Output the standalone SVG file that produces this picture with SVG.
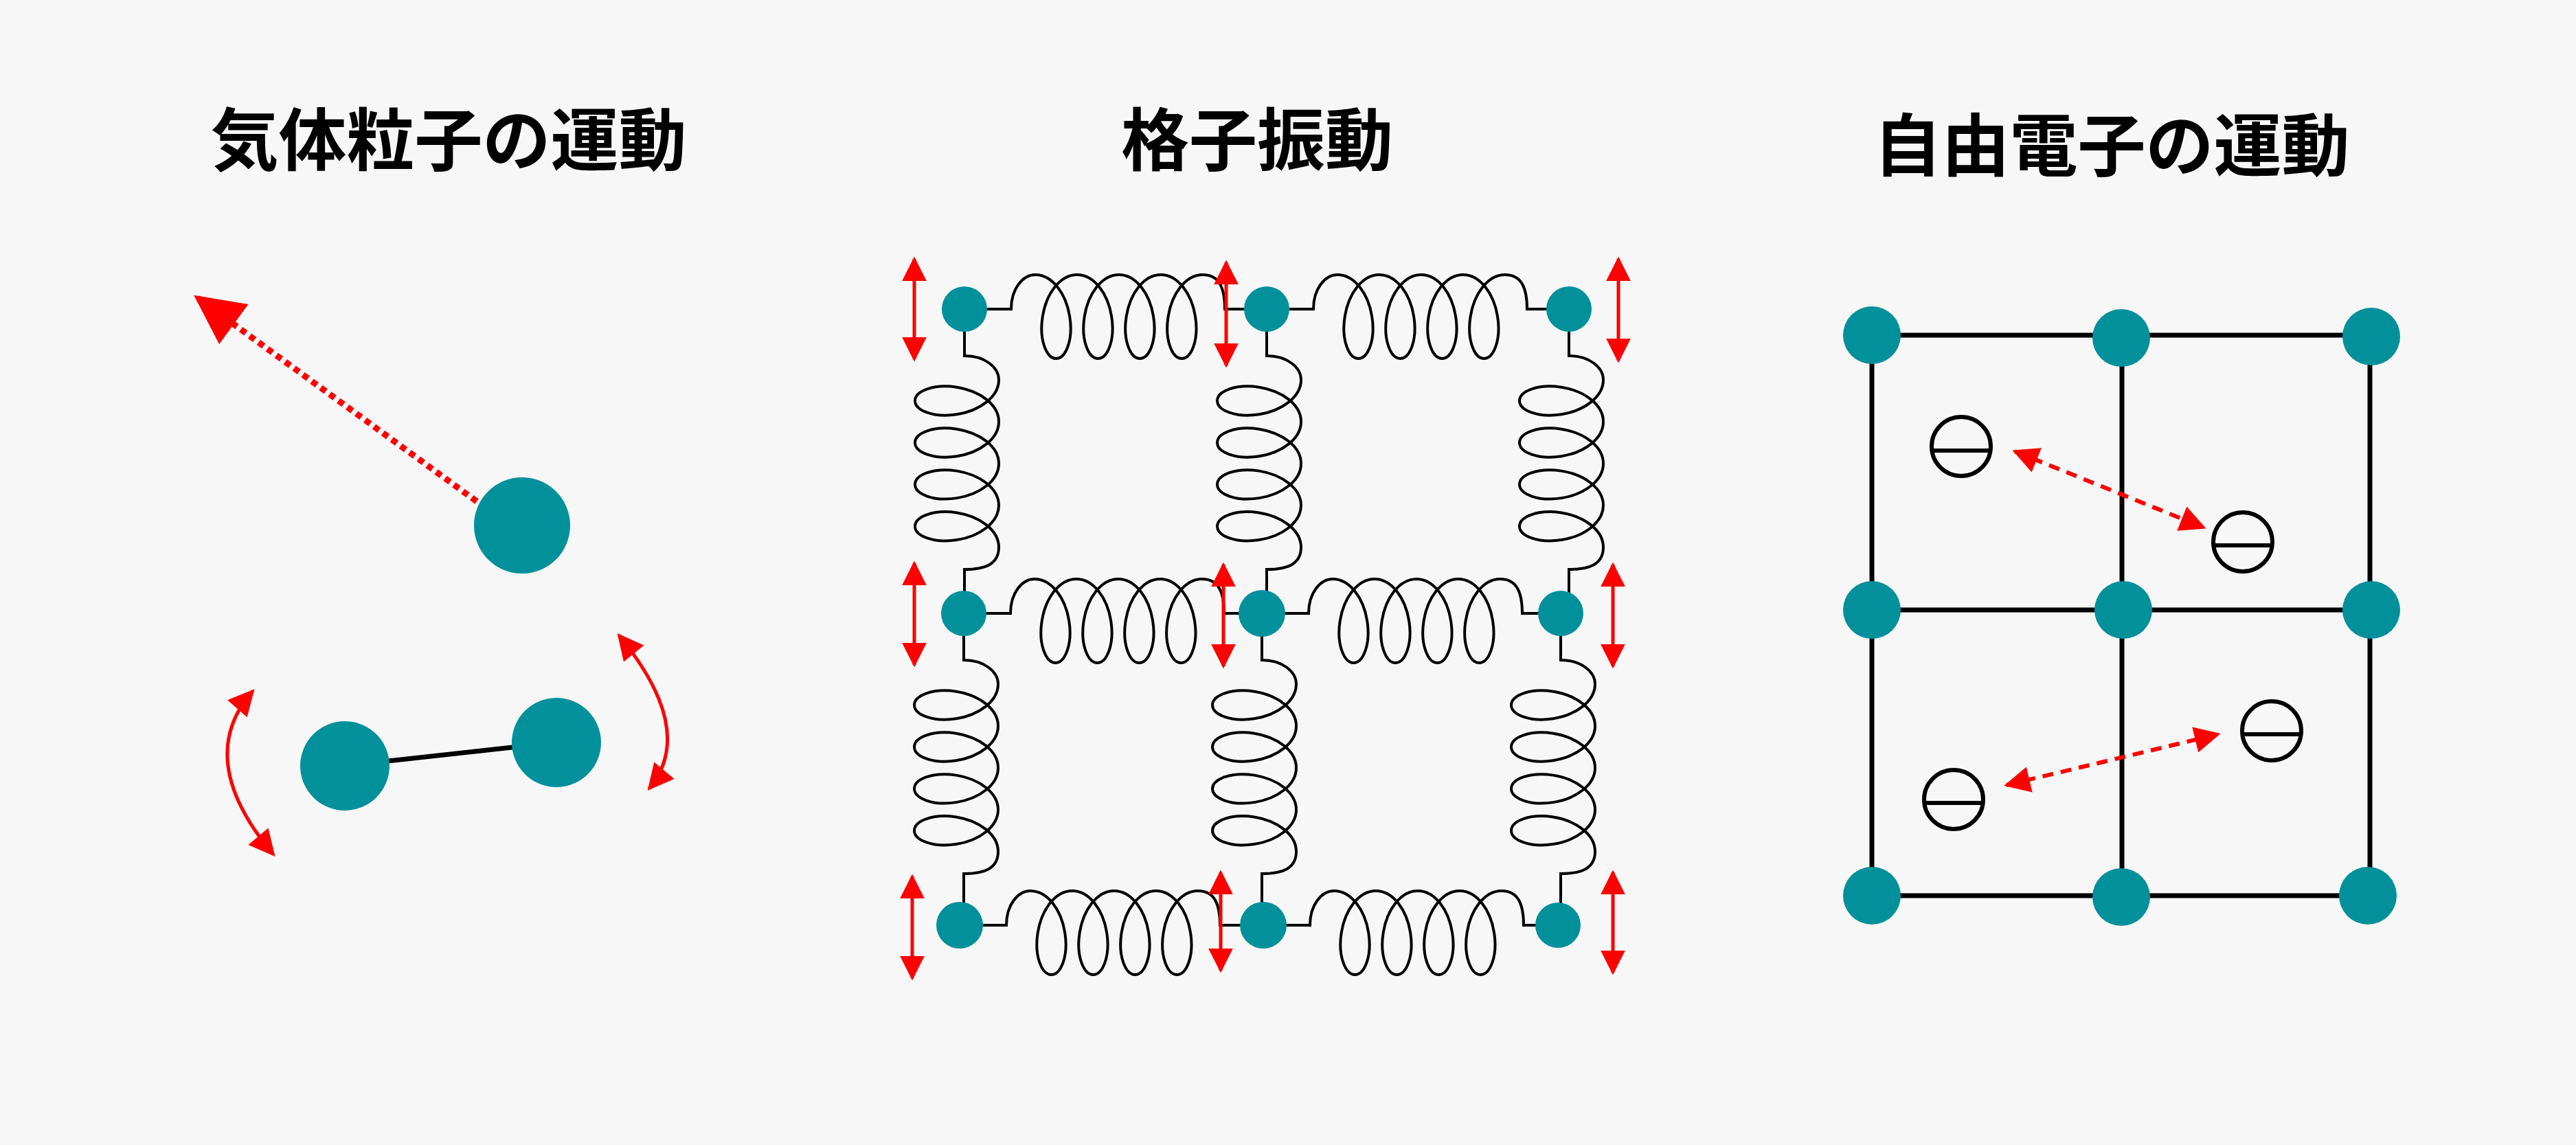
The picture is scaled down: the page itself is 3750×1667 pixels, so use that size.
<svg xmlns="http://www.w3.org/2000/svg" xmlns:xlink="http://www.w3.org/1999/xlink" width="3750" height="1667" viewBox="0 0 3750 1667">
<style>
.t{font-family:"Noto Sans CJK JP","Noto Sans",sans-serif;font-weight:bold;font-size:99px;fill:#000;text-anchor:middle}
.n{fill:#02909b}
.sp{fill:none;stroke:#000;stroke-width:4}
.ra{stroke:#f00;stroke-width:5;fill:none}
.el{fill:none;stroke:#000;stroke-width:6}
.gl{stroke:#000;stroke-width:7;fill:none}
</style>
<defs>
<marker id="ah" viewBox="0 0 10 10" refX="9" refY="5" markerUnits="userSpaceOnUse" markerWidth="36" markerHeight="42" orient="auto-start-reverse"><path d="M0,0L10,5L0,10z" fill="#f00"/></marker>
<marker id="ahg" viewBox="0 0 10 10" refX="9" refY="5" markerUnits="userSpaceOnUse" markerWidth="72" markerHeight="84" orient="auto-start-reverse"><path d="M0,0L10,5L0,10z" fill="#f00"/></marker>
<marker id="ahc" viewBox="0 0 10 10" refX="9" refY="5" markerUnits="userSpaceOnUse" markerWidth="40" markerHeight="38" orient="auto-start-reverse"><path d="M0,0L10,5L0,10z" fill="#f00"/></marker>
<path id="spring" class="sp" d="M0,0L68,0C68,-30 85,-50 103,-50
C127.7,-50 147.88,-22.7 153.24,11C158.6,44.7 147.47,72 133.47,72C119.47,72 108.35,44.7 113.71,11C119.07,-22.7 139.25,-50 163.95,-50
C188.65,-50 208.83,-22.7 214.19,11C219.55,44.7 208.42,72 194.42,72C180.42,72 169.3,44.7 174.66,11C180.02,-22.7 200.2,-50 224.9,-50
C249.6,-50 269.78,-22.7 275.14,11C280.5,44.7 269.37,72 255.37,72C241.37,72 230.25,44.7 235.61,11C240.97,-22.7 261.15,-50 285.85,-50
C310.55,-50 330.73,-22.7 336.09,11C341.45,44.7 330.32,72 316.32,72C302.32,72 291.2,44.7 296.56,11C301.92,-22.7 322.1,-50 346.8,-50
C371.5,-50 379,-30 379,0L446,0"/>
</defs>
<rect width="3750" height="1667" fill="#f7f7f7"/>
<text class="t" x="653" y="240">気体粒子の運動</text>
<text class="t" x="1830" y="240">格子振動</text>
<text class="t" x="3074" y="248">自由電子の運動</text>

<g id="connectors">
<line x1="694" y1="730" x2="288" y2="434" stroke="#f00" stroke-width="9" stroke-dasharray="9 7" marker-end="url(#ahg)"/>
<line x1="502" y1="1115" x2="810" y2="1081" stroke="#000" stroke-width="7"/>
<path class="ra" d="M368,1006Q281,1105 398,1244" marker-start="url(#ahc)" marker-end="url(#ahc)"/>
<path class="ra" d="M901,925Q1015,1064 945,1148" marker-start="url(#ahc)" marker-end="url(#ahc)"/>

<use xlink:href="#spring" transform="translate(1404,450)"/>
<use xlink:href="#spring" transform="translate(1844,450)"/>
<use xlink:href="#spring" transform="translate(1403,893)"/>
<use xlink:href="#spring" transform="translate(1837,893)"/>
<use xlink:href="#spring" transform="translate(1397,1347)"/>
<use xlink:href="#spring" transform="translate(1839,1347)"/>
<use xlink:href="#spring" transform="translate(1404,450) rotate(90)"/>
<use xlink:href="#spring" transform="translate(1403,893) rotate(90)"/>
<use xlink:href="#spring" transform="translate(1844,450) rotate(90)"/>
<use xlink:href="#spring" transform="translate(1837,893) rotate(90)"/>
<use xlink:href="#spring" transform="translate(2284,450) rotate(90)"/>
<use xlink:href="#spring" transform="translate(2272,893) rotate(90)"/>

<line class="ra" x1="1331" y1="377" x2="1331" y2="523" marker-start="url(#ah)" marker-end="url(#ah)"/>
<line class="ra" x1="1785" y1="382" x2="1785" y2="532" marker-start="url(#ah)" marker-end="url(#ah)"/>
<line class="ra" x1="2356" y1="377" x2="2356" y2="525" marker-start="url(#ah)" marker-end="url(#ah)"/>
<line class="ra" x1="1331" y1="820" x2="1331" y2="968" marker-start="url(#ah)" marker-end="url(#ah)"/>
<line class="ra" x1="1781" y1="822" x2="1781" y2="970" marker-start="url(#ah)" marker-end="url(#ah)"/>
<line class="ra" x1="2348" y1="822" x2="2348" y2="970" marker-start="url(#ah)" marker-end="url(#ah)"/>
<line class="ra" x1="1328" y1="1276" x2="1328" y2="1424" marker-start="url(#ah)" marker-end="url(#ah)"/>
<line class="ra" x1="1777" y1="1270" x2="1777" y2="1413" marker-start="url(#ah)" marker-end="url(#ah)"/>
<line class="ra" x1="2348" y1="1270" x2="2348" y2="1416" marker-start="url(#ah)" marker-end="url(#ah)"/>

<path class="gl" d="M2725,488H3452M2725,888H3452M2725,1304H3452M2725,488V1304M3089,488V1304M3450,488V1304"/>
<line x1="2933" y1="657" x2="3208" y2="768" stroke="#f00" stroke-width="6" stroke-dasharray="16 11" marker-start="url(#ahc)" marker-end="url(#ahc)"/>
<line x1="2921" y1="1143" x2="3229" y2="1069" stroke="#f00" stroke-width="6" stroke-dasharray="16 11" marker-start="url(#ahc)" marker-end="url(#ahc)"/>
</g>

<g id="gas"><circle class="n" cx="760" cy="765" r="70"/></g>
<g id="molecule"><circle class="n" cx="502" cy="1115" r="65"/><circle class="n" cx="810" cy="1081" r="65"/></g>
<g id="lattice">
<circle class="n" cx="1404" cy="450" r="33"/><circle class="n" cx="1844" cy="450" r="33"/><circle class="n" cx="2284" cy="450" r="33"/>
<circle class="n" cx="1403" cy="893" r="33"/><circle class="n" cx="1837" cy="893" r="34"/><circle class="n" cx="2272" cy="893" r="33"/>
<circle class="n" cx="1397" cy="1347" r="34"/><circle class="n" cx="1839" cy="1347" r="34"/><circle class="n" cx="2268" cy="1347" r="33"/>
</g>
<g id="ions">
<circle class="n" cx="2725" cy="488" r="42"/><circle class="n" cx="3088" cy="492" r="42"/><circle class="n" cx="3452" cy="490" r="42"/>
<circle class="n" cx="2725" cy="888" r="42"/><circle class="n" cx="3091" cy="888" r="42"/><circle class="n" cx="3452" cy="888" r="42"/>
<circle class="n" cx="2725" cy="1304" r="42"/><circle class="n" cx="3088" cy="1306" r="42"/><circle class="n" cx="3447" cy="1304" r="42"/>
</g>
<g id="electrons">
<circle class="el" cx="2855" cy="650" r="43"/><line class="el" x1="2812" y1="656" x2="2898" y2="656"/>
<circle class="el" cx="3265" cy="789" r="43"/><line class="el" x1="3222" y1="794" x2="3308" y2="794"/>
<circle class="el" cx="3307" cy="1064" r="43"/><line class="el" x1="3264" y1="1069" x2="3350" y2="1069"/>
<circle class="el" cx="2844" cy="1164" r="43"/><line class="el" x1="2801" y1="1169" x2="2887" y2="1169"/>
</g>
</svg>
